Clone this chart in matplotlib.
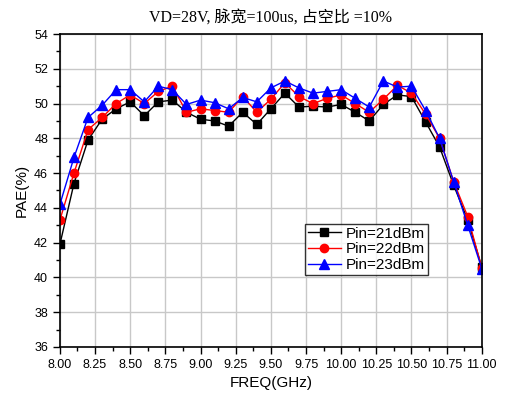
import numpy as np
import matplotlib.pyplot as plt
import matplotlib.ticker as ticker

plt.rcParams['font.family'] = ['Liberation Sans', 'DejaVu Sans']

freq = [8.0, 8.1, 8.2, 8.3, 8.4, 8.5, 8.6, 8.7, 8.8, 8.9, 9.0, 9.1, 9.2, 9.3, 9.4, 9.5,
        9.6, 9.7, 9.8, 9.9, 10.0, 10.1, 10.2, 10.3, 10.4, 10.5, 10.6, 10.7, 10.8, 10.9, 11.0]

pae_21 = [41.9, 45.4, 47.9, 49.1, 49.7, 50.1, 49.3, 50.1, 50.2, 49.5, 49.1, 49.0, 48.7, 49.5, 48.8, 49.7,
          50.6, 49.8, 49.85, 49.8, 49.95, 49.5, 49.0, 49.95, 50.5, 50.4, 48.95, 47.5, 45.3, 43.3, 40.6]
pae_22 = [43.3, 46.0, 48.5, 49.2, 50.0, 50.5, 50.0, 50.7, 51.0, 49.5, 49.7, 49.6, 49.5, 50.4, 49.5, 50.25,
          51.2, 50.4, 50.0, 50.3, 50.5, 50.0, 49.5, 50.25, 51.05, 50.6, 49.4, 48.0, 45.5, 43.5, 40.55]
pae_23 = [44.2, 46.9, 49.2, 49.9, 50.8, 50.8, 50.1, 51.0, 50.8, 49.95, 50.2, 50.05, 49.7, 50.35, 50.1, 50.9,
          51.3, 50.9, 50.6, 50.7, 50.8, 50.3, 49.8, 51.3, 50.95, 51.0, 49.6, 48.0, 45.5, 43.0, 40.5]

labels = ['Pin=21dBm', 'Pin=22dBm', 'Pin=23dBm']

fig = plt.figure(figsize=(5.12, 3.96), dpi=100)
ax = fig.add_axes([0.117, 0.124, 0.824, 0.79])

ax.plot(freq, pae_21, color='black', marker='s', markersize=5.5, linewidth=1, label=labels[0])
ax.plot(freq, pae_22, color='red', marker='o', markersize=6, linewidth=1, label=labels[1])
ax.plot(freq, pae_23, color='blue', marker='^', markersize=6.5, linewidth=1, label=labels[2])

ax.set_xlim(8.0, 11.0)
ax.set_ylim(36, 54)
ax.xaxis.set_major_locator(ticker.MultipleLocator(0.25))
ax.xaxis.set_minor_locator(ticker.MultipleLocator(0.125))
ax.yaxis.set_major_locator(ticker.MultipleLocator(2))
ax.yaxis.set_minor_locator(ticker.MultipleLocator(1))
ax.xaxis.set_major_formatter(ticker.FormatStrFormatter('%.2f'))
ax.tick_params(which='both', direction='out', top=False, right=False, labelsize=9)
ax.tick_params(which='major', length=5, width=1)
ax.tick_params(which='minor', length=3, width=1)
ax.grid(True, which='major', color='#c8c8c8', linewidth=1)
ax.set_axisbelow(True)
for s in ax.spines.values():
    s.set_linewidth(1.2)

ax.set_xlabel('FREQ(GHz)', fontsize=11)
ax.set_ylabel('PAE(%)', fontsize=11)
ax.set_title('VD=28V, 脉宽=100us, 占空比 =10%', fontsize=11.5, pad=9,
             family=['Liberation Serif', 'Noto Sans CJK SC'])

leg = ax.legend(loc='lower left', bbox_to_anchor=(0.58, 0.23), fontsize=11,
                frameon=True, fancybox=False, edgecolor='black', borderpad=0.2,
                handlelength=2.2, handletextpad=0.3, labelspacing=0.1, borderaxespad=0)
leg.get_frame().set_linewidth(1)

fig.savefig('out.png', dpi=100)
